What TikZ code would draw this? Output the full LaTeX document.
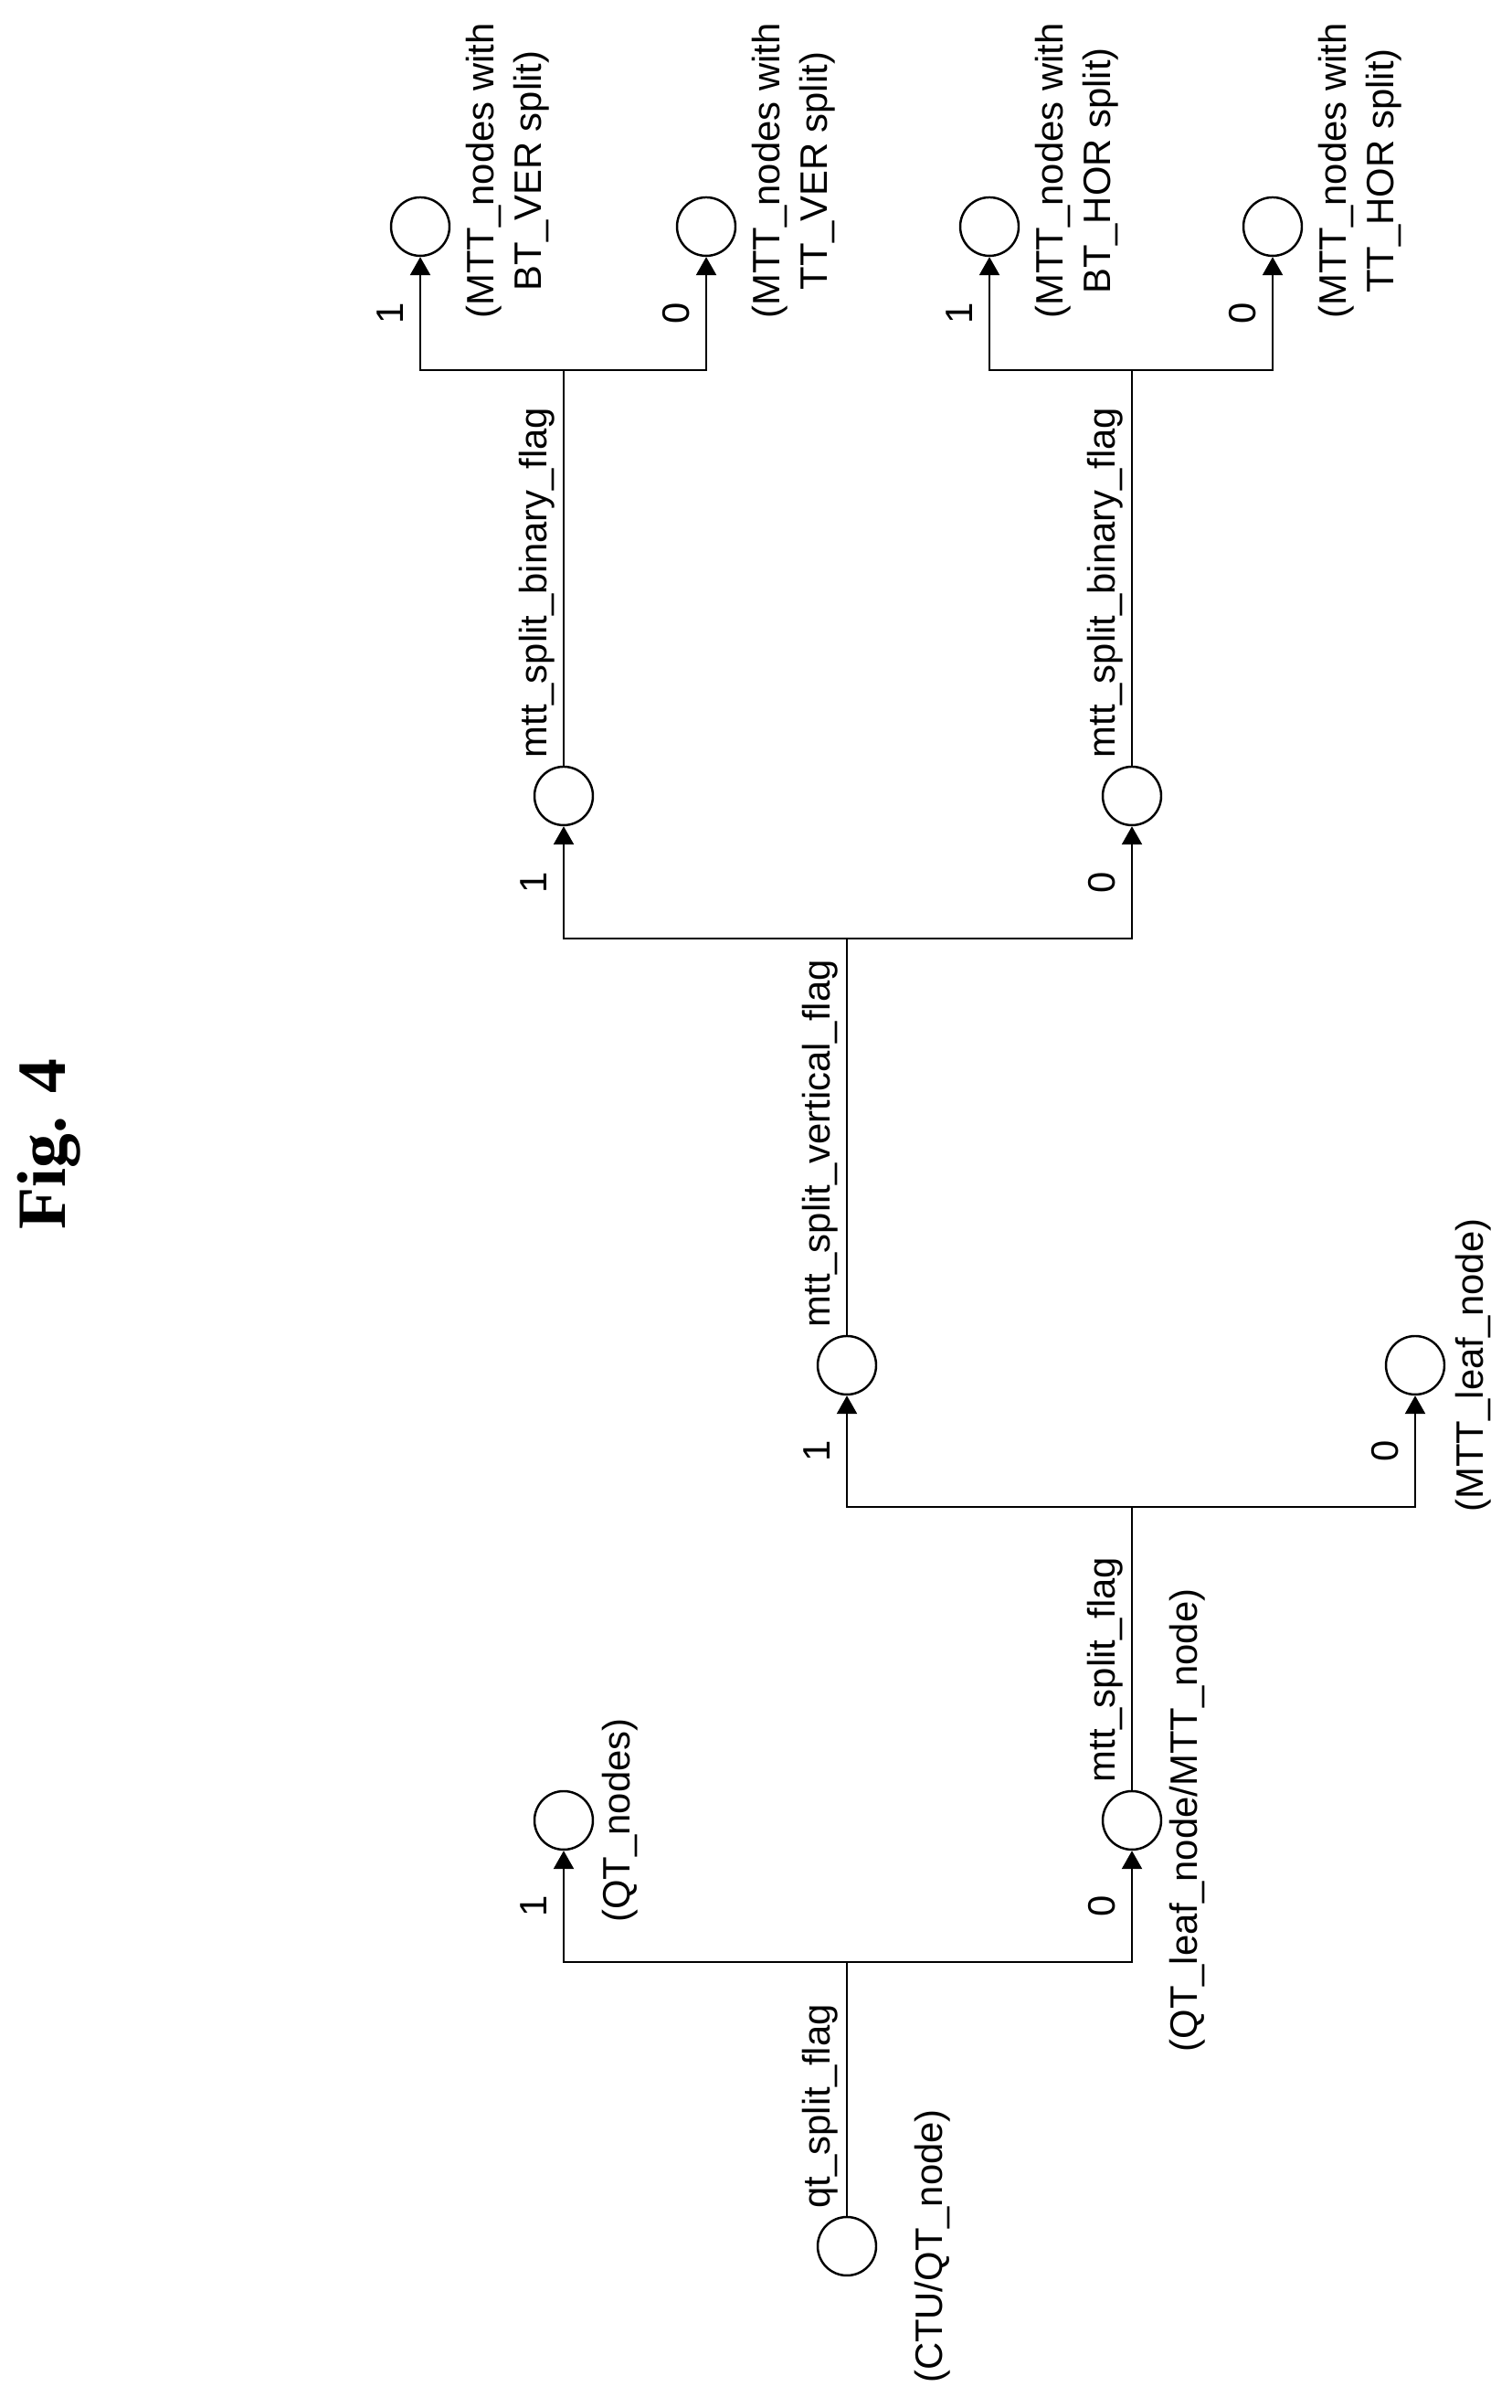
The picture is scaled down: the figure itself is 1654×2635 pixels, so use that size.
\documentclass[tikz,border=0pt]{standalone}
\usepackage{fontspec}
\setmainfont{Liberation Sans}
\newfontfamily\figfont{Liberation Serif}
\usetikzlibrary{arrows.meta}

\begin{document}
\begin{tikzpicture}[x=0.02cm, y=0.02cm,
	every node/.style = {font=\fontsize{23.8}{29.5}\selectfont},
	node/.style = {circle, draw, line width=1.4pt, minimum size=1.28cm, inner sep=0pt},
	edge/.style = {line width=1.4pt, -{Triangle[length=0.4cm, width=0.44cm]}},
	link/.style = {line width=1.4pt},
	flag/.style = {rotate=90, anchor=south west, inner sep=0pt},
	desc/.style = {rotate=90, anchor=north, inner sep=0pt},
	bit/.style = {pos=0.75, xshift=-0.66cm, rotate=90, inner sep=0pt}]

	\useasboundingbox (0,0) rectangle (1654,2635);

	\node (ctu) [node] at (927, 177) {};

	\node (qtn)  [node] at (617, 643) {};
	\node (qtl)  [node] at (1239, 643) {};

	\node (ver)  [node] at (927, 1141) {};
	\node (leaf) [node] at (1549, 1141) {};

	\node (bv)   [node] at (617, 1764) {};
	\node (bh)   [node] at (1239, 1764) {};

	\node (btv)  [node] at (460, 2387) {};
	\node (ttv)  [node] at (773, 2387) {};
	\node (bth)  [node] at (1083, 2387) {};
	\node (tth)  [node] at (1393, 2387) {};

	\coordinate (qtbar)  at (927, 488);
	\coordinate (mttbar) at (1239, 986);
	\coordinate (verbar) at (927, 1608);
	\coordinate (bvbar)  at (617, 2230);
	\coordinate (bhbar)  at (1239, 2230);

	\draw[link] (ctu) -- (qtbar);
	\draw[edge] (qtbar) -| node [bit] {1} (qtn);
	\draw[edge] (qtbar) -| node [bit] {0} (qtl);

	\draw[link] (qtl) -- (mttbar);
	\draw[edge] (mttbar) -| node [bit] {1} (ver);
	\draw[edge] (mttbar) -| node [bit] {0} (leaf);

	\draw[link] (ver) -- (verbar);
	\draw[edge] (verbar) -| node [bit] {1} (bv);
	\draw[edge] (verbar) -| node [bit] {0} (bh);

	\draw[link] (bv) -- (bvbar);
	\draw[edge] (bvbar) -| node [bit] {1} (btv);
	\draw[edge] (bvbar) -| node [bit] {0} (ttv);

	\draw[link] (bh) -- (bhbar);
	\draw[edge] (bhbar) -| node [bit] {1} (bth);
	\draw[edge] (bhbar) -| node [bit] {0} (tth);

	% Flags
	\node [flag] at ([xshift=-0.18cm, yshift=0.16cm]ctu.north) {qt\_split\_flag};
	\node [flag] at ([xshift=-0.18cm, yshift=0.16cm]qtl.north) {mtt\_split\_flag};
	\node [flag] at ([xshift=-0.18cm, yshift=0.16cm]ver.north) {mtt\_split\_vertical\_flag};
	\node [flag] at ([xshift=-0.18cm, yshift=0.16cm]bv.north) {mtt\_split\_binary\_flag};
	\node [flag] at ([xshift=-0.18cm, yshift=0.16cm]bh.north) {mtt\_split\_binary\_flag};

	% Descriptions
	\node [desc] at ([xshift=0.82cm]ctu.east) {(CTU/QT\_node)};
	\node [desc] at ([xshift=0.18cm]qtn.east) {(QT\_nodes)};
	\node [desc] at ([xshift=0.15cm]qtl.east) {(QT\_leaf\_node/MTT\_node)};
	\node [desc] at ([xshift=0.22cm]leaf.east) {(MTT\_leaf\_node)};
	\node [rotate=90, align=center] at ([xshift=1.92cm, yshift=1.22cm]btv.center) {(MTT\_nodes with\\BT\_VER split)};
	\node [rotate=90, align=center] at ([xshift=1.92cm, yshift=1.22cm]ttv.center) {(MTT\_nodes with\\TT\_VER split)};
	\node [rotate=90, align=center] at ([xshift=1.92cm, yshift=1.22cm]bth.center) {(MTT\_nodes with\\BT\_HOR split)};
	\node [rotate=90, align=center] at ([xshift=1.92cm, yshift=1.22cm]tth.center) {(MTT\_nodes with\\TT\_HOR split)};

	\node (title) [rotate=90, font=\figfont\bfseries\fontsize{43}{50}\selectfont] at (54, 1383) {Fig. 4};
\end{tikzpicture}
\end{document}
